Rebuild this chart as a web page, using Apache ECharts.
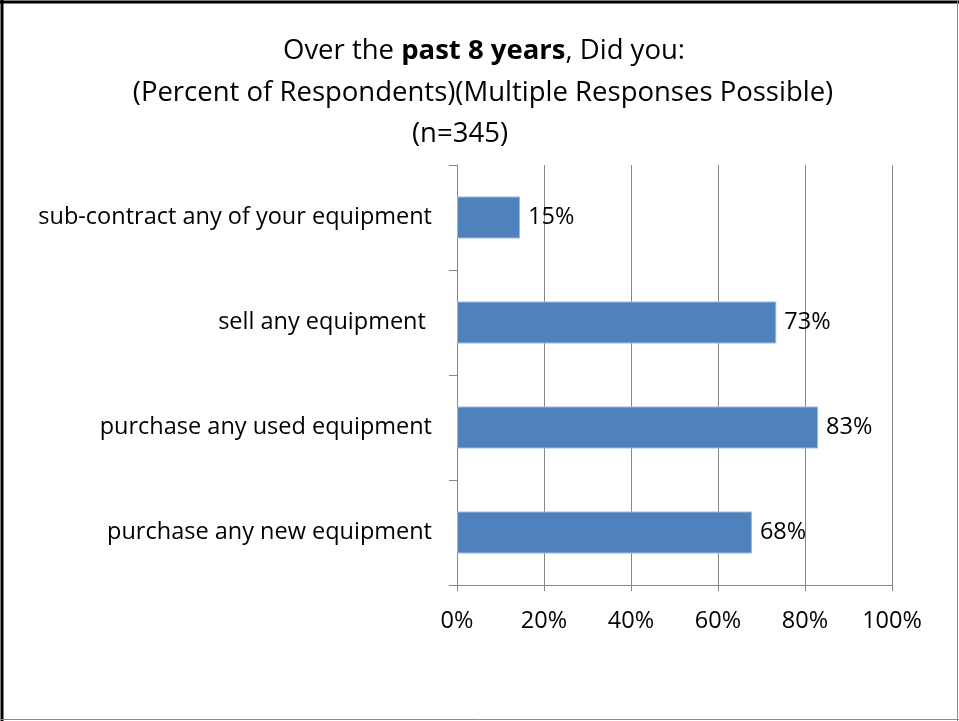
<!DOCTYPE html>
<html>
<head>
<meta charset="utf-8">
<script src="https://cdn.jsdelivr.net/npm/echarts@6/dist/echarts.min.js"></script>
<style>
html,body{margin:0;padding:0;background:#fff;}
#chart{width:959px;height:721px;}
</style>
</head>
<body>
<div id="chart"></div>
<script>
// Data
const categories = [
  'sub-contract any of your equipment',
  'sell any equipment ',
  'purchase any used equipment',
  'purchase any new equipment'
];
const percentValues = [14.5, 73.4, 83.0, 67.8];
const xTickMax = 100;
const xTickStep = 20;

const FONT = 'Open Sans';
const TITLE_SIZE = 27.5;
const LABEL_SIZE = 23.5;
const chart = echarts.init(document.getElementById('chart'), null, {renderer: 'canvas'});

const option = {
  backgroundColor: '#ffffff',
  animation: false,
  graphic: [
    {type: 'line', shape: {x1: 0, y1: 2, x2: 959, y2: 2}, style: {stroke: '#000', lineWidth: 3}},
    {type: 'line', shape: {x1: 2, y1: 0, x2: 2, y2: 721}, style: {stroke: '#000', lineWidth: 3}},
    {type: 'line', shape: {x1: 957.5, y1: 0, x2: 957.5, y2: 721}, style: {stroke: '#888', lineWidth: 1}},
    {type: 'line', shape: {x1: 0, y1: 719.5, x2: 959, y2: 719.5}, style: {stroke: '#888', lineWidth: 1}},
    {
      type: 'text', x: 484, y: 51,
      style: {
        text: '{n|Over the }{b|past 8 years}{n|, Did you:}',
        align: 'center', verticalAlign: 'middle',
        rich: {
          n: {fontFamily: FONT, fontSize: TITLE_SIZE, fill: '#000'},
          b: {fontFamily: FONT, fontSize: TITLE_SIZE, fontWeight: 'bold', fill: '#000'}
        }
      }
    },
    {
      type: 'text', x: 483, y: 93,
      style: {
        text: '(Percent of Respondents)(Multiple Responses Possible)',
        align: 'center', verticalAlign: 'middle',
        fontFamily: FONT, fontSize: TITLE_SIZE, fill: '#000'
      }
    },
    {
      type: 'text', x: 460, y: 134,
      style: {
        text: '(n=345)',
        align: 'center', verticalAlign: 'middle',
        fontFamily: FONT, fontSize: TITLE_SIZE, fill: '#000'
      }
    }
  ],
  grid: {left: 457, right: 67, top: 165, bottom: 136, containLabel: false},
  xAxis: {
    type: 'value',
    min: 0, max: xTickMax, interval: xTickStep,
    axisLine: {show: true, lineStyle: {color: '#868686', width: 1}},
    axisTick: {show: true, length: 6, lineStyle: {color: '#868686'}},
    splitLine: {show: true, lineStyle: {color: '#868686', width: 1}},
    axisLabel: {
      formatter: '{value}%', margin: 24,
      fontFamily: FONT, fontSize: LABEL_SIZE, color: '#000'
    }
  },
  yAxis: {
    type: 'category',
    data: categories,
    inverse: true,
    axisLine: {show: true, lineStyle: {color: '#868686', width: 1}},
    axisTick: {show: true, length: 8, alignWithLabel: false, lineStyle: {color: '#868686'}},
    splitLine: {show: false},
    axisLabel: {margin: 25, fontFamily: FONT, fontSize: LABEL_SIZE, color: '#000'}
  },
  series: [{
    type: 'bar',
    data: percentValues,
    barWidth: '40%',
    itemStyle: {color: '#4F81BD', borderColor: '#9CB8DD', borderWidth: 1},
    label: {
      show: true, position: 'right', distance: 8,
      formatter: p => Math.round(p.value) + '%',
      fontFamily: FONT, fontSize: LABEL_SIZE, color: '#000'
    }
  }]
};
chart.setOption(option);
</script>
</body>
</html>
